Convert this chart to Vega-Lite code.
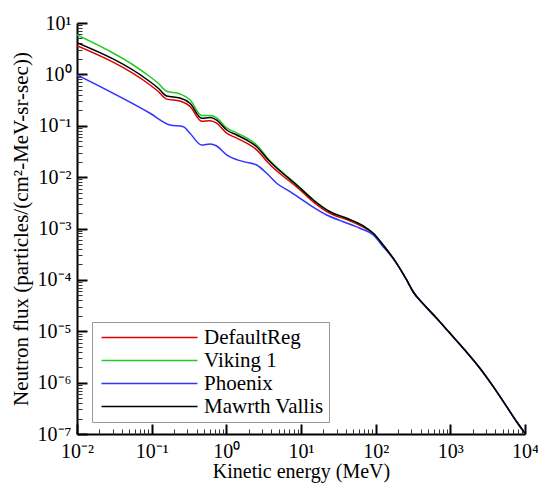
{
  "$schema": "https://vega.github.io/schema/vega-lite/v6.json",
  "width": 448,
  "height": 411,
  "autosize": {"type": "none"},
  "padding": {"left": 77, "top": 23, "right": 13, "bottom": 49},
  "background": "white",
  "config": {"view": {"stroke": null}, "font": "Liberation Serif"},
  "data": {"values": [
    {"series": "DefaultReg", "energy": 0.01, "flux": 3.61},
    {"series": "DefaultReg", "energy": 0.0951, "flux": 0.621},
    {"series": "DefaultReg", "energy": 0.1216, "flux": 0.470},
    {"series": "DefaultReg", "energy": 0.159, "flux": 0.330},
    {"series": "DefaultReg", "energy": 0.239, "flux": 0.302},
    {"series": "DefaultReg", "energy": 0.326, "flux": 0.238},
    {"series": "DefaultReg", "energy": 0.468, "flux": 0.122},
    {"series": "DefaultReg", "energy": 0.604, "flux": 0.125},
    {"series": "DefaultReg", "energy": 0.743, "flux": 0.112},
    {"series": "DefaultReg", "energy": 1.01, "flux": 0.0719},
    {"series": "DefaultReg", "energy": 1.38, "flux": 0.0574},
    {"series": "DefaultReg", "energy": 1.87, "flux": 0.0459},
    {"series": "DefaultReg", "energy": 2.55, "flux": 0.034},
    {"series": "DefaultReg", "energy": 3.65, "flux": 0.0189},
    {"series": "DefaultReg", "energy": 6.43, "flux": 0.00918},
    {"series": "DefaultReg", "energy": 8.75, "flux": 0.00647},
    {"series": "DefaultReg", "energy": 14.6, "flux": 0.0033},
    {"series": "DefaultReg", "energy": 24.4, "flux": 0.00197},
    {"series": "DefaultReg", "energy": 40.9, "flux": 0.00149},
    {"series": "DefaultReg", "energy": 68.3, "flux": 0.00106},
    {"series": "DefaultReg", "energy": 92.9, "flux": 0.000783},
    {"series": "DefaultReg", "energy": 126, "flux": 0.000478},
    {"series": "DefaultReg", "energy": 191, "flux": 0.00021},
    {"series": "DefaultReg", "energy": 260, "flux": 0.0000996},
    {"series": "DefaultReg", "energy": 319, "flux": 0.0000581},
    {"series": "DefaultReg", "energy": 435, "flux": 0.0000339},
    {"series": "DefaultReg", "energy": 656, "flux": 0.0000179},
    {"series": "DefaultReg", "energy": 989, "flux": 0.00000912},
    {"series": "DefaultReg", "energy": 1490, "flux": 0.00000466},
    {"series": "DefaultReg", "energy": 2490, "flux": 0.0000019},
    {"series": "DefaultReg", "energy": 3760, "flux": 0.000000834},
    {"series": "DefaultReg", "energy": 5690, "flux": 0.00000034},
    {"series": "DefaultReg", "energy": 7740, "flux": 0.000000173},
    {"series": "DefaultReg", "energy": 10000, "flux": 0.000000103},

    {"series": "Viking 1", "energy": 0.01, "flux": 5.84},
    {"series": "Viking 1", "energy": 0.0951, "flux": 0.899},
    {"series": "Viking 1", "energy": 0.1216, "flux": 0.679},
    {"series": "Viking 1", "energy": 0.159, "flux": 0.470},
    {"series": "Viking 1", "energy": 0.239, "flux": 0.416},
    {"series": "Viking 1", "energy": 0.326, "flux": 0.321},
    {"series": "Viking 1", "energy": 0.468, "flux": 0.158},
    {"series": "Viking 1", "energy": 0.604, "flux": 0.158},
    {"series": "Viking 1", "energy": 0.743, "flux": 0.142},
    {"series": "Viking 1", "energy": 1.01, "flux": 0.0909},
    {"series": "Viking 1", "energy": 1.38, "flux": 0.0726},
    {"series": "Viking 1", "energy": 1.87, "flux": 0.0581},
    {"series": "Viking 1", "energy": 2.55, "flux": 0.0422},
    {"series": "Viking 1", "energy": 3.65, "flux": 0.0226},
    {"series": "Viking 1", "energy": 6.43, "flux": 0.0105},
    {"series": "Viking 1", "energy": 8.75, "flux": 0.00717},
    {"series": "Viking 1", "energy": 14.6, "flux": 0.00363},
    {"series": "Viking 1", "energy": 24.4, "flux": 0.00212},
    {"series": "Viking 1", "energy": 40.9, "flux": 0.00158},
    {"series": "Viking 1", "energy": 68.3, "flux": 0.00112},
    {"series": "Viking 1", "energy": 92.9, "flux": 0.000807},
    {"series": "Viking 1", "energy": 126, "flux": 0.000478},
    {"series": "Viking 1", "energy": 191, "flux": 0.00021},
    {"series": "Viking 1", "energy": 260, "flux": 0.0000996},
    {"series": "Viking 1", "energy": 319, "flux": 0.0000581},
    {"series": "Viking 1", "energy": 435, "flux": 0.0000339},
    {"series": "Viking 1", "energy": 656, "flux": 0.0000179},
    {"series": "Viking 1", "energy": 989, "flux": 0.00000912},
    {"series": "Viking 1", "energy": 1490, "flux": 0.00000466},
    {"series": "Viking 1", "energy": 2490, "flux": 0.0000019},
    {"series": "Viking 1", "energy": 3760, "flux": 0.000000834},
    {"series": "Viking 1", "energy": 5690, "flux": 0.00000034},
    {"series": "Viking 1", "energy": 7740, "flux": 0.000000173},
    {"series": "Viking 1", "energy": 10000, "flux": 0.000000103},

    {"series": "Phoenix", "energy": 0.01, "flux": 0.973},
    {"series": "Phoenix", "energy": 0.0951, "flux": 0.175},
    {"series": "Phoenix", "energy": 0.176, "flux": 0.1035},
    {"series": "Phoenix", "energy": 0.265, "flux": 0.096},
    {"series": "Phoenix", "energy": 0.326, "flux": 0.0713},
    {"series": "Phoenix", "energy": 0.468, "flux": 0.0422},
    {"series": "Phoenix", "energy": 0.604, "flux": 0.0442},
    {"series": "Phoenix", "energy": 0.743, "flux": 0.0404},
    {"series": "Phoenix", "energy": 1.01, "flux": 0.027},
    {"series": "Phoenix", "energy": 1.69, "flux": 0.020},
    {"series": "Phoenix", "energy": 2.55, "flux": 0.0172},
    {"series": "Phoenix", "energy": 3.47, "flux": 0.01186},
    {"series": "Phoenix", "energy": 4.72, "flux": 0.00759},
    {"series": "Phoenix", "energy": 7.12, "flux": 0.0052},
    {"series": "Phoenix", "energy": 13.2, "flux": 0.00286},
    {"series": "Phoenix", "energy": 22.1, "flux": 0.00183},
    {"series": "Phoenix", "energy": 36.8, "flux": 0.001355},
    {"series": "Phoenix", "energy": 61.6, "flux": 0.00101},
    {"series": "Phoenix", "energy": 92.9, "flux": 0.000746},
    {"series": "Phoenix", "energy": 126, "flux": 0.000443},
    {"series": "Phoenix", "energy": 191, "flux": 0.00021},
    {"series": "Phoenix", "energy": 260, "flux": 0.0000996},
    {"series": "Phoenix", "energy": 319, "flux": 0.0000581},
    {"series": "Phoenix", "energy": 435, "flux": 0.0000339},
    {"series": "Phoenix", "energy": 656, "flux": 0.0000179},
    {"series": "Phoenix", "energy": 989, "flux": 0.00000912},
    {"series": "Phoenix", "energy": 1490, "flux": 0.00000466},
    {"series": "Phoenix", "energy": 2490, "flux": 0.0000019},
    {"series": "Phoenix", "energy": 3760, "flux": 0.000000834},
    {"series": "Phoenix", "energy": 5690, "flux": 0.00000034},
    {"series": "Phoenix", "energy": 7740, "flux": 0.000000173},
    {"series": "Phoenix", "energy": 10000, "flux": 0.000000103},

    {"series": "Mawrth Vallis", "energy": 0.01, "flux": 4.14},
    {"series": "Mawrth Vallis", "energy": 0.0951, "flux": 0.719},
    {"series": "Mawrth Vallis", "energy": 0.1216, "flux": 0.543},
    {"series": "Mawrth Vallis", "energy": 0.159, "flux": 0.379},
    {"series": "Mawrth Vallis", "energy": 0.239, "flux": 0.347},
    {"series": "Mawrth Vallis", "energy": 0.326, "flux": 0.274},
    {"series": "Mawrth Vallis", "energy": 0.468, "flux": 0.140},
    {"series": "Mawrth Vallis", "energy": 0.604, "flux": 0.144},
    {"series": "Mawrth Vallis", "energy": 0.743, "flux": 0.129},
    {"series": "Mawrth Vallis", "energy": 1.01, "flux": 0.0826},
    {"series": "Mawrth Vallis", "energy": 1.38, "flux": 0.066},
    {"series": "Mawrth Vallis", "energy": 1.87, "flux": 0.0528},
    {"series": "Mawrth Vallis", "energy": 2.55, "flux": 0.0391},
    {"series": "Mawrth Vallis", "energy": 3.65, "flux": 0.0215},
    {"series": "Mawrth Vallis", "energy": 6.43, "flux": 0.0102},
    {"series": "Mawrth Vallis", "energy": 8.75, "flux": 0.00703},
    {"series": "Mawrth Vallis", "energy": 14.6, "flux": 0.00359},
    {"series": "Mawrth Vallis", "energy": 24.4, "flux": 0.00212},
    {"series": "Mawrth Vallis", "energy": 40.9, "flux": 0.00158},
    {"series": "Mawrth Vallis", "energy": 68.3, "flux": 0.00112},
    {"series": "Mawrth Vallis", "energy": 92.9, "flux": 0.000807},
    {"series": "Mawrth Vallis", "energy": 126, "flux": 0.000478},
    {"series": "Mawrth Vallis", "energy": 191, "flux": 0.00021},
    {"series": "Mawrth Vallis", "energy": 260, "flux": 0.0000996},
    {"series": "Mawrth Vallis", "energy": 319, "flux": 0.0000581},
    {"series": "Mawrth Vallis", "energy": 435, "flux": 0.0000339},
    {"series": "Mawrth Vallis", "energy": 656, "flux": 0.0000179},
    {"series": "Mawrth Vallis", "energy": 989, "flux": 0.00000912},
    {"series": "Mawrth Vallis", "energy": 1490, "flux": 0.00000466},
    {"series": "Mawrth Vallis", "energy": 2490, "flux": 0.0000019},
    {"series": "Mawrth Vallis", "energy": 3760, "flux": 0.000000834},
    {"series": "Mawrth Vallis", "energy": 5690, "flux": 0.00000034},
    {"series": "Mawrth Vallis", "energy": 7740, "flux": 0.000000173},
    {"series": "Mawrth Vallis", "energy": 10000, "flux": 0.000000103}
  ]},
  "layer": [
    {
      "mark": {"type": "line", "strokeWidth": 1.5, "clip": true, "interpolate": "monotone"},
      "encoding": {
        "x": {
          "field": "energy", "type": "quantitative",
          "scale": {"type": "log", "domain": [0.01, 10000], "nice": false},
          "axis": {
            "orient": "bottom",
            "values": [0.01, 0.1, 1, 10, 100, 1000, 10000],
            "labelExpr": "['10⁻²','10⁻¹','10⁰','10¹','10²','10³','10⁴'][round(log(datum.value)/LN10)+2]",
            "title": "Kinetic energy (MeV)",
            "grid": false,
            "domainColor": "black", "domainWidth": 2,
            "tickColor": "black", "tickWidth": 2, "tickSize": -10,
            "labelFont": "Liberation Serif", "labelFontSize": 20, "labelColor": "black",
            "labelPadding": 17, "labelOverlap": false, "labelFlush": false,
            "titleFont": "Liberation Serif", "titleFontSize": 20, "titleFontWeight": "normal",
            "titleColor": "black", "titlePadding": 0
          }
        },
        "y": {
          "field": "flux", "type": "quantitative",
          "scale": {"type": "log", "domain": [0.0000001, 10], "nice": false},
          "axis": {
            "orient": "left",
            "values": [0.0000001, 0.000001, 0.00001, 0.0001, 0.001, 0.01, 0.1, 1, 10],
            "labelExpr": "['10⁻⁷','10⁻⁶','10⁻⁵','10⁻⁴','10⁻³','10⁻²','10⁻¹','10⁰','10¹'][round(log(datum.value)/LN10)+7]",
            "title": "Neutron flux (particles/(cm²-MeV-sr-sec))",
            "grid": false,
            "domainColor": "black", "domainWidth": 2,
            "tickColor": "black", "tickWidth": 2, "tickSize": -10,
            "labelFont": "Liberation Serif", "labelFontSize": 20, "labelColor": "black",
            "labelPadding": 16, "labelOverlap": false, "labelFlush": false,
            "titleFont": "Liberation Serif", "titleFontSize": 21, "titleFontWeight": "normal",
            "titleColor": "black", "titlePadding": 6
          }
        },
        "color": {
          "field": "series", "type": "nominal",
          "scale": {
            "domain": ["DefaultReg", "Viking 1", "Phoenix", "Mawrth Vallis"],
            "range": ["#dd0000", "#22cc22", "#3333ff", "#000000"]
          },
          "legend": {
            "title": null, "orient": "none", "legendX": 15, "legendY": 299,
            "direction": "vertical",
            "strokeColor": "#999999", "fillColor": "white", "padding": 5,
            "symbolType": "M-1,0H15", "symbolSize": 144, "symbolStrokeWidth": 1.5,
            "labelFont": "Liberation Serif", "labelFontSize": 21, "labelColor": "black",
            "labelOffset": 86, "rowPadding": 1, "labelLimit": 300
          }
        }
      }
    },
    {
      "mark": {"type": "line", "strokeOpacity": 0},
      "encoding": {
        "x": {
          "field": "energy", "type": "quantitative",
          "axis": {
            "orient": "bottom",
            "values": [0.02,0.03,0.04,0.05,0.06,0.07,0.08,0.09,0.2,0.3,0.4,0.5,0.6,0.7,0.8,0.9,2,3,4,5,6,7,8,9,20,30,40,50,60,70,80,90,200,300,400,500,600,700,800,900,2000,3000,4000,5000,6000,7000,8000,9000],
            "labels": false, "domain": false, "grid": false, "title": null,
            "tickColor": "#333333", "tickWidth": 1, "tickSize": -5
          }
        },
        "y": {
          "field": "flux", "type": "quantitative",
          "axis": {
            "orient": "left",
            "values": [0.0000002,0.0000003,0.0000004,0.0000005,0.0000006,0.0000007,0.0000008,0.0000009,0.000002,0.000003,0.000004,0.000005,0.000006,0.000007,0.000008,0.000009,0.00002,0.00003,0.00004,0.00005,0.00006,0.00007,0.00008,0.00009,0.0002,0.0003,0.0004,0.0005,0.0006,0.0007,0.0008,0.0009,0.002,0.003,0.004,0.005,0.006,0.007,0.008,0.009,0.02,0.03,0.04,0.05,0.06,0.07,0.08,0.09,0.2,0.3,0.4,0.5,0.6,0.7,0.8,0.9,2,3,4,5,6,7,8,9],
            "labels": false, "domain": false, "grid": false, "title": null,
            "tickColor": "#333333", "tickWidth": 1, "tickSize": -5
          }
        },
        "detail": {"field": "series"}
      }
    }
  ],
  "resolve": {"axis": {"x": "independent", "y": "independent"}}
}
